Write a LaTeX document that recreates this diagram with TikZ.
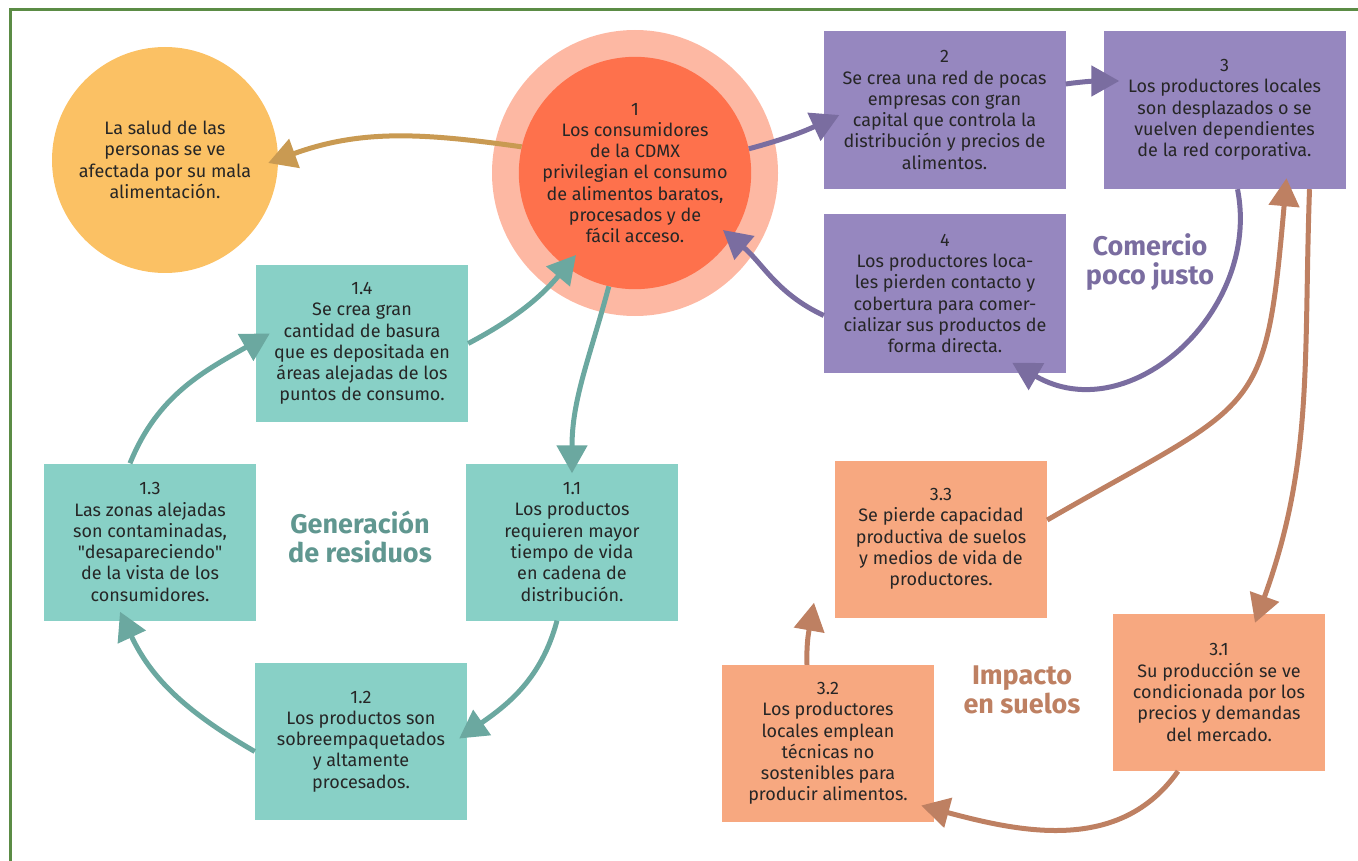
\documentclass[tikz,border=0pt]{standalone}
\usepackage{fontspec}
\setmainfont{Fira Sans}
\newfontfamily\rectas{Fira Sans}
\usetikzlibrary{arrows.meta}

\definecolor{marco}{HTML}{5B8C45}
\definecolor{saludfill}{HTML}{FBC164}
\definecolor{anillo}{HTML}{FDB8A3}
\definecolor{consred}{HTML}{FE714C}
\definecolor{lila}{HTML}{9687BF}
\definecolor{lilaosc}{HTML}{7A6DA0}
\definecolor{verde}{HTML}{88D0C6}
\definecolor{verdeosc}{HTML}{6BA8A0}
\definecolor{naranja}{HTML}{F7A880}
\definecolor{cafe}{HTML}{BE8062}
\definecolor{dorado}{HTML}{C99A52}

\begin{document}
\begin{tikzpicture}[x=1pt,y=1pt,
  txt/.style={align=center, text=black!85, font=\fontsize{18}{21.3}\selectfont},
  lbox/.style={txt, fill=lila, minimum width=242pt, minimum height=158pt, inner sep=0pt},
  vbox/.style={txt, fill=verde, minimum width=212pt, minimum height=157pt, inner sep=0pt},
  nbox/.style={txt, fill=naranja, minimum width=212pt, minimum height=157pt, inner sep=0pt},
  titulo/.style={align=center, font=\fontsize{27}{29}\selectfont\bfseries},
  arr/.style={line width=5pt, -{Triangle[length=28pt,width=30pt]}},
]
\clip (0,0) rectangle (1358,-861);
\useasboundingbox (0,0) rectangle (1358,-861);
\draw[marco, line width=3pt] (10,-900) -- (10,-10) -- (1400,-10);

% circulos
\node[txt, circle, fill=saludfill, minimum size=226pt, inner sep=0pt] (salud) at (165,-160) {La salud de las\\personas se ve\\afectada por su mala\\alimentación.};
\node[circle, fill=anillo, minimum size=286pt] (ring) at (635,-173) {};
\node[txt, circle, fill=consred, minimum size=226pt, inner sep=0pt] (consumo) at (635,-173) {1\\Los consumidores\\de la CDMX\\privilegian el consumo\\de alimentos baratos,\\procesados y de\\fácil acceso.};

% comercio poco justo
\node[lbox] (b2) at (944.5,-110) {2\\Se crea una red de pocas\\empresas con gran\\capital que controla la\\distribución y precios de\\alimentos.};
\node[lbox] (b3) at (1224.5,-110) {3\\Los productores locales\\son desplazados o se\\vuelven dependientes\\de la red corporativa.};
\node[lbox] (b4) at (945,-293.5) {4\\Los productores loca-\\les pierden contacto y\\cobertura para comer-\\cializar sus productos de\\forma directa.};
\node[titulo, text=lilaosc] (comercio) at (1150,-262) {Comercio\\poco justo};

% generacion de residuos
\node[vbox] (b14) at (362,-343.5) {1.4\\Se crea gran\\cantidad de basura\\que es depositada en\\áreas alejadas de los\\puntos de consumo.};
\node[vbox] (b13) at (150,-542) {1.3\\Las zonas alejadas\\son contaminadas,\\{\rectas"desapareciendo"}\\de la vista de los\\consumidores.};
\node[vbox] (b11) at (572,-542) {1.1\\Los productos\\requieren mayor\\tiempo de vida\\en cadena de\\distribución.};
\node[vbox] (b12) at (361,-741.5) {1.2\\Los productos son\\sobreempaquetados\\y altamente\\procesados.};
\node[titulo, text=verdeosc!90!black] (residuos) at (360,-537) {Generación\\de residuos};

% impacto en suelos
\node[nbox] (b33) at (941,-539) {3.3\\Se pierde capacidad\\productiva de suelos\\y medios de vida de\\productores.};
\node[nbox] (b31) at (1219,-692.5) {3.1\\Su producción se ve\\condicionada por los\\precios y demandas\\del mercado.};
\node[nbox] (b32) at (828,-743.5) {3.2\\Los productores\\locales emplean\\técnicas no\\sostenibles para\\producir alimentos.};
\node[titulo, text=cafe] (suelos) at (1022,-690) {Impacto\\en suelos};

% flechas
\draw[arr, dorado] (consumo.167) to[out=172,in=20] ([shift={(-10pt,-3pt)}]salud.east);
\draw[arr, lilaosc] (consumo.12) to[out=15,in=205] ([shift={(16pt,-5pt)}]b2.west);
\draw[arr, lilaosc] ([yshift=26pt]b2.east) to[out=8,in=180] ([shift={(16pt,29pt)}]b3.west);
\draw[arr, lilaosc] ([xshift=13pt]b3.south) .. controls +(24,-121) and +(118,-68) .. ([shift={(-54pt,10pt)}]b4.south east);
\draw[arr, lilaosc] ([yshift=-22pt]b4.west) to[out=155,in=-40] ([shift={(88pt,-57pt)}]consumo.center);

\draw[arr, verdeosc] (consumo.-103) to[out=-105,in=90] ([yshift=-10pt]b11.north);
\draw[arr, verdeosc] ([xshift=-15pt]b11.south) to[out=-105,in=35] ([shift={(-8pt,3pt)}]b12.east);
\draw[arr, verdeosc] ([yshift=-10pt]b12.west) to[out=150,in=-65] ([shift={(-30pt,9pt)}]b13.south);
\draw[arr, verdeosc] ([xshift=-20pt]b13.north) to[out=68,in=-150] ([shift={(14pt,10pt)}]b14.west);
\draw[arr, verdeosc] (b14.east) to[out=28,in=-130] ([shift={(-59pt,-82pt)}]consumo.center);

\draw[arr, cafe] ([yshift=19pt]b33.east) to[out=30,in=-95,looseness=1.5] ([shift={(62pt,11pt)}]b3.south);
\draw[arr, cafe] ([xshift=85pt]b3.south) to[out=-92,in=70] ([shift={(36pt,-9pt)}]b31.north);
\draw[arr, cafe] ([xshift=-41pt]b31.south) to[out=-125,in=-15] ([shift={(-13pt,-62pt)}]b32.east);
\draw[arr, cafe] ([xshift=-21pt]b32.north) to[out=92,in=-100] ([shift={(-127pt,15pt)}]b33.south);
\end{tikzpicture}
\end{document}
